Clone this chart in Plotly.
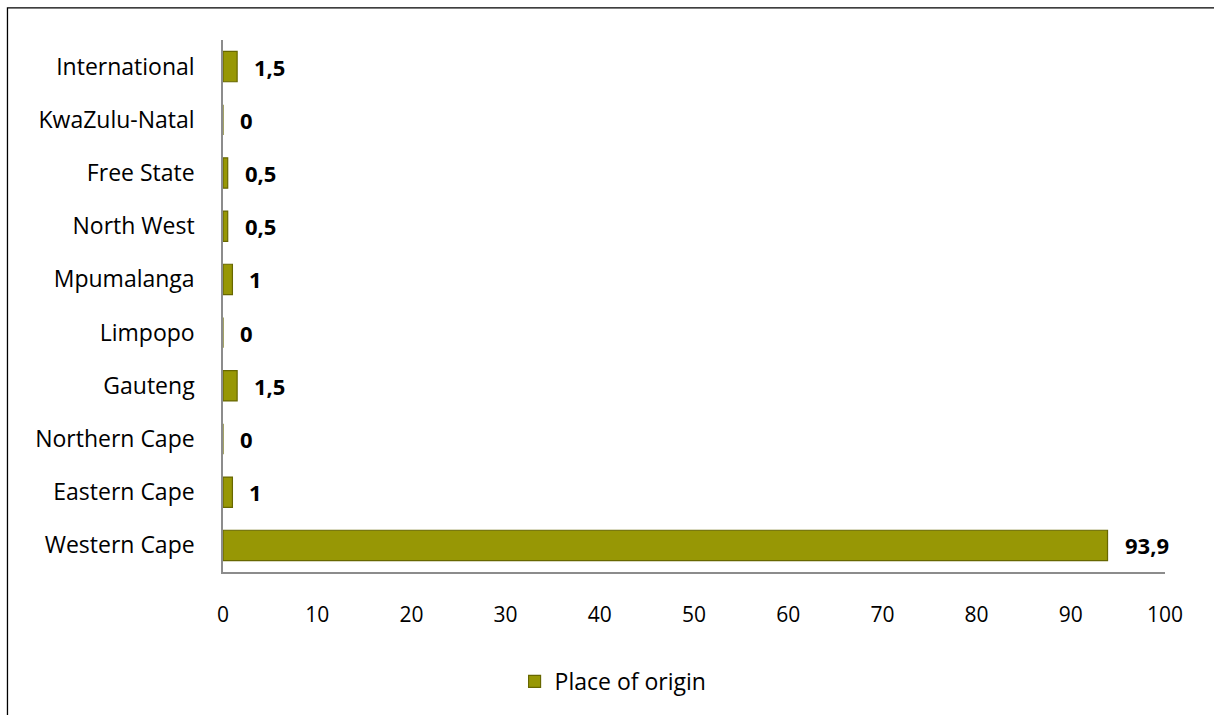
import plotly.graph_objects as go

# Place of origin by province (percent)
categories = ["Western Cape", "Eastern Cape", "Northern Cape", "Gauteng", "Limpopo",
              "Mpumalanga", "North West", "Free State", "KwaZulu-Natal", "International"]
values = [93.9, 1, 0, 1.5, 0, 1, 0.5, 0.5, 0, 1.5]
x_ticks = [0, 10, 20, 30, 40, 50, 60, 70, 80, 90, 100]

labels = [f"{v:g}".replace(".", ",") for v in values]

FONT = "Open Sans"

fig = go.Figure()
fig.add_trace(go.Bar(
    y=categories,
    x=values,
    orientation="h",
    name="Place of origin",
    width=0.57,
    marker=dict(color="#979705", line=dict(color="#676700", width=1.2)),
    hoverinfo="x+y",
))

# value labels just past the end of each bar
for cat, v, lab in zip(categories, values, labels):
    fig.add_annotation(
        x=v, y=cat, text=f"<b>{lab}</b>", showarrow=False,
        xanchor="left", xshift=15, font=dict(family=FONT, size=22, color="#000"),
    )

# outer chart border
fig.add_shape(type="rect", xref="paper", yref="paper",
              x0=-0.2288, x1=1.2, y0=-0.5, y1=1.0602,
              line=dict(color="#000", width=1.3), fillcolor="rgba(0,0,0,0)")

fig.update_layout(
    width=1214, height=715,
    margin=dict(l=223, r=49, t=40, b=143),
    paper_bgcolor="white", plot_bgcolor="white",
    font=dict(family=FONT, size=22, color="#000"),
    bargap=0.43,
    showlegend=True,
    legend=dict(orientation="h", xref="container", yref="container",
                x=0.505, xanchor="center", y=0.047, yanchor="middle",
                font=dict(family=FONT, size=23), itemwidth=30),
    xaxis=dict(range=[0, 100], tickvals=x_ticks, showgrid=False, zeroline=False,
               showline=True, linecolor="#8c8c8c", linewidth=1.5,
               ticks="", ticklabelstandoff=23, tickfont=dict(size=21),
               fixedrange=True),
    yaxis=dict(categoryorder="array", categoryarray=categories, showgrid=False,
               showline=True, linecolor="#8c8c8c", linewidth=1.5,
               ticks="", ticklabelstandoff=22, tickfont=dict(size=23),
               fixedrange=True),
)

fig.write_html("out.html")
